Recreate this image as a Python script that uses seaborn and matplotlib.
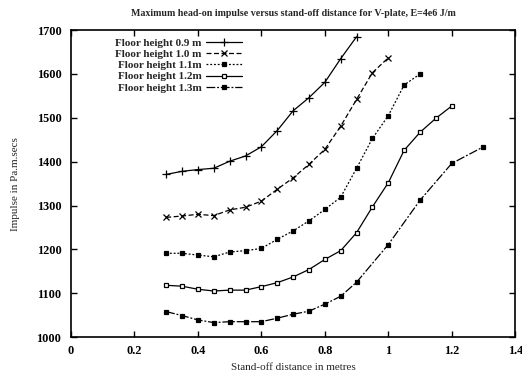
import numpy as np
import pandas as pd
import matplotlib
matplotlib.use("Agg")
import matplotlib.pyplot as plt
import seaborn as sns

labels = ["Floor height 0.9 m", "Floor height 1.0 m", "Floor height 1.1m",
          "Floor height 1.2m", "Floor height 1.3m"]

x_09 = [0.3, 0.35, 0.4, 0.45, 0.5, 0.55, 0.6, 0.65, 0.7, 0.75, 0.8, 0.85, 0.9]
y_09 = [1371, 1378, 1382, 1385, 1401, 1413, 1434, 1471, 1516, 1546, 1581, 1635, 1685]

x_10 = [0.3, 0.35, 0.4, 0.45, 0.5, 0.55, 0.6, 0.65, 0.7, 0.75, 0.8, 0.85, 0.9, 0.95, 1.0]
y_10 = [1273, 1276, 1280, 1277, 1290, 1296, 1310, 1337, 1363, 1394, 1428, 1481, 1542, 1603, 1637]

x_11 = [0.3, 0.35, 0.4, 0.45, 0.5, 0.55, 0.6, 0.65, 0.7, 0.75, 0.8, 0.85, 0.9, 0.95,
        1.0, 1.05, 1.1]
y_11 = [1191, 1191, 1187, 1183, 1194, 1197, 1202, 1223, 1242, 1265, 1291, 1319, 1385, 1453,
        1505, 1575, 1600]

x_12 = [0.3, 0.35, 0.4, 0.45, 0.5, 0.55, 0.6, 0.65, 0.7, 0.75, 0.8, 0.85, 0.9, 0.95,
        1.0, 1.05, 1.1, 1.15, 1.2]
y_12 = [1118, 1116, 1109, 1105, 1107, 1107, 1115, 1124, 1137, 1154, 1177, 1197, 1238, 1297,
        1352, 1426, 1467, 1499, 1527]

x_13 = [0.3, 0.35, 0.4, 0.45, 0.5, 0.55, 0.6, 0.65, 0.7, 0.75, 0.8, 0.85, 0.9,
        1.0, 1.1, 1.2, 1.3]
y_13 = [1058, 1049, 1039, 1033, 1035, 1035, 1035, 1043, 1052, 1059, 1075, 1093, 1125,
        1211, 1312, 1396, 1434]

series = [(x_09, y_09), (x_10, y_10), (x_11, y_11), (x_12, y_12), (x_13, y_13)]
styles = [
    dict(linestyle="-", marker="+", markersize=5.5, mfc="black"),
    dict(linestyle=(0, (4, 2)), marker="x", markersize=3.8, mfc="black"),
    dict(linestyle=(0, (1.5, 1.5)), marker="s", markersize=2.8, mfc="black"),
    dict(linestyle="-", marker="s", markersize=3.3, mfc="white"),
    dict(linestyle=(0, (7, 1.5, 1.5, 1.5)), marker="s", markersize=3.3, mfc="black"),
]

sns.set_theme(style="ticks")
plt.rcParams["font.family"] = ["Liberation Serif", "DejaVu Serif"]

fig = plt.figure(figsize=(5.22, 3.77), dpi=100)
ax = fig.add_axes([0.136, 0.106, 0.851, 0.814])

for (xs, ys), lab, st in zip(series, labels, styles):
    df = pd.DataFrame({"x": xs, "y": ys})
    sns.lineplot(data=df, x="x", y="y", ax=ax, color="black", linewidth=0.9,
                 label=lab, mec="black", mew=0.9, **st)

ax.set_xlim(0, 1.4)
ax.set_ylim(1000, 1700)
ax.set_xticks([0, 0.2, 0.4, 0.6, 0.8, 1.0, 1.2, 1.4])
ax.set_xticklabels(["0", "0.2", "0.4", "0.6", "0.8", "1", "1.2", "1.4"])
ax.set_yticks(range(1000, 1701, 100))
ax.tick_params(direction="in", length=4, width=1, top=True, right=True,
               labelsize=8.8, colors="black")
ax.tick_params(axis="y", pad=7)
ax.tick_params(axis="x", pad=6)
for t in ax.get_xticklabels() + ax.get_yticklabels():
    t.set_fontweight("bold")
for s in ax.spines.values():
    s.set_color("black")
    s.set_linewidth(1.2)

ax.set_xlabel("Stand-off distance in metres", fontsize=8, labelpad=4)
ax.set_ylabel("Impulse in Pa.m.secs", fontsize=8, labelpad=12)
ax.set_title("Maximum head-on impulse versus stand-off distance for V-plate, E=4e6 J/m",
             fontsize=7.2, fontweight="bold", pad=10)

leg = ax.legend(loc="upper left", bbox_to_anchor=(0.085, 0.995), frameon=False,
                markerfirst=False, fontsize=8, handlelength=3.2, handletextpad=0.4,
                labelspacing=0.12, borderaxespad=0.2)
for t in leg.get_texts():
    t.set_fontweight("bold")

fig.savefig("out.png", dpi=100)
